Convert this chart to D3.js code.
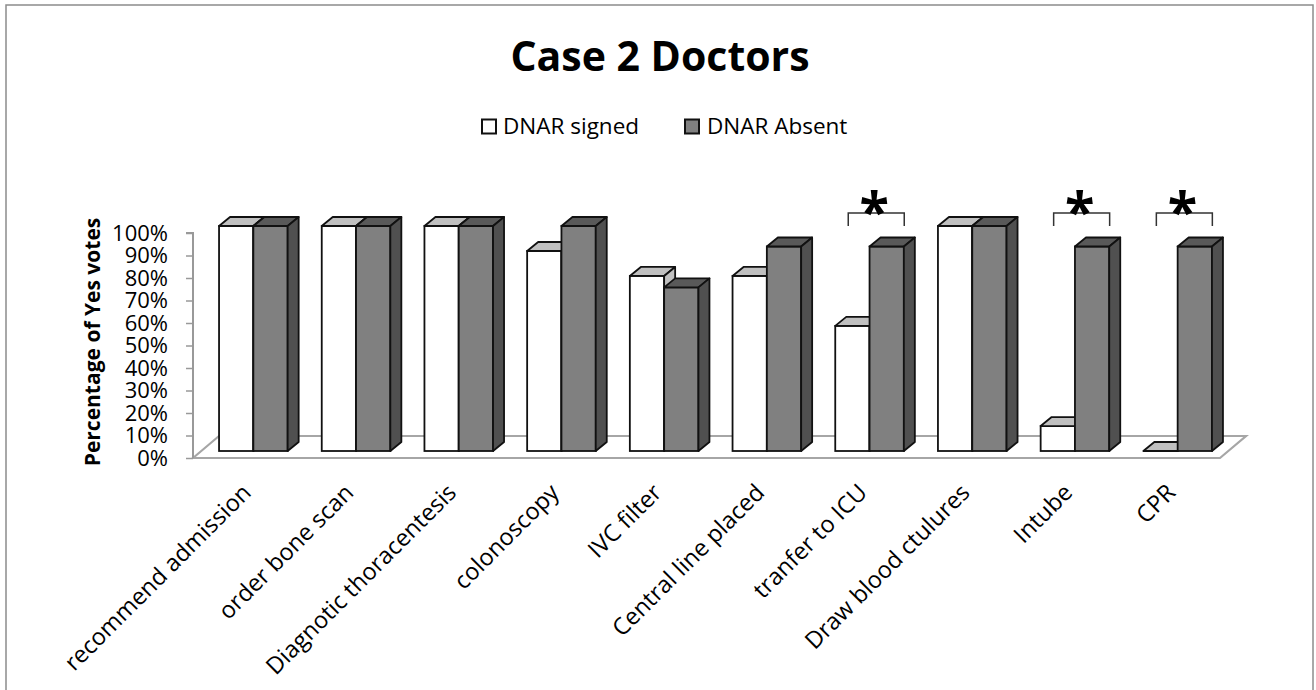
<!DOCTYPE html>
<html>
<head>
<meta charset="utf-8">
<script src="https://cdn.jsdelivr.net/npm/d3@7"></script>
<style>
  body { margin: 0; background: #fff; }
  text { font-family: "Open Sans", "Noto Sans", sans-serif; fill: #000; }
</style>
</head>
<body>
<svg id="chart"></svg>
<script>
// values (percent of yes votes)
var categories = ["recommend admission", "order bone scan", "Diagnotic thoracentesis", "colonoscopy",
  "IVC filter", "Central line placed", "tranfer to ICU", "Draw blood ctulures", "Intube", "CPR"];
var dnarSigned = [100, 100, 100, 88.9, 77.8, 77.8, 55.6, 100, 11.1, 0];
var dnarAbsent = [100, 100, 100, 100, 72.7, 90.9, 90.9, 100, 90.9, 90.9];
var seriesNames = ["DNAR signed", "DNAR Absent"];
var significant = ["tranfer to ICU", "Intube", "CPR"];
var yTicks = [0, 10, 20, 30, 40, 50, 60, 70, 80, 90, 100];

var width = 1316, height = 690;

var svg = d3.select("#chart").attr("width", width).attr("height", height);

// chart border
svg.append("rect")
  .attr("x", 6).attr("y", 5).attr("width", 1307).attr("height", 710)
  .attr("fill", "#fff").attr("stroke", "#8c8c8c").attr("stroke-width", 1.5);

// floor front edge / depth
var floorL = 193, floorR = 1220, floorY = 458;
var floorDx = 26, floorDy = -22;
// bar sits a little back on the floor, and has its own depth
var barShiftX = 9, barShiftY = -7;
var bdx = 11, bdy = -9;

var x = d3.scaleBand().domain(categories).range([floorL, floorR])
  .paddingInner(0.332).paddingOuter(0.166);
var y = d3.scaleLinear().domain([0, 100]).range([floorY, 233]);

// title
svg.append("text")
  .attr("x", 660).attr("y", 71)
  .attr("text-anchor", "middle")
  .style("font-size", "41px").style("font-weight", "bold")
  .text("Case 2 Doctors");

// legend
var legendPos = [{ x: 482, tx: 503 }, { x: 685, tx: 707 }];
var fills = ["#ffffff", "#808080"];
var tops = ["#c0c0c0", "#595959"];
var sides = ["#c0c0c0", "#505050"];

seriesNames.forEach(function (s, i) {
  svg.append("rect")
    .attr("x", legendPos[i].x).attr("y", 119.5)
    .attr("width", 14).attr("height", 14)
    .attr("fill", fills[i]).attr("stroke", "#111").attr("stroke-width", 2);
  svg.append("text")
    .attr("x", legendPos[i].tx).attr("y", 134)
    .style("font-size", "22.5px")
    .text(s);
});

// floor
svg.append("path")
  .attr("d", "M" + floorL + "," + floorY +
    "L" + (floorL + floorDx) + "," + (floorY + floorDy) +
    "L" + (floorR + floorDx) + "," + (floorY + floorDy) +
    "L" + floorR + "," + floorY + "Z")
  .attr("fill", "#fff").attr("stroke", "#a6a6a6").attr("stroke-width", 2.2);

// y axis
var yAxis = d3.axisLeft(y).tickValues(yTicks).tickSize(7).tickFormat(function (d) { return d + "%"; });
var ag = svg.append("g").attr("transform", "translate(" + floorL + ",0)").call(yAxis);
ag.select(".domain").attr("stroke", "#999").attr("stroke-width", 2).attr("d", "M-7," + y(100) + "H0V" + floorY);
ag.selectAll(".tick line").attr("stroke", "#999").attr("stroke-width", 1.5);
ag.selectAll(".tick text")
  .attr("x", -25)
  .style("font-size", "22px").style("font-family", "'Open Sans', sans-serif").attr("fill", "#000");

// y title
svg.append("text")
  .attr("transform", "translate(100," + 342 + ")rotate(-90)")
  .attr("text-anchor", "middle")
  .style("font-size", "21px").style("font-weight", "bold")
  .text("Percentage of Yes votes");

// 3d bars
function drawBar(g, x0, w, v, k) {
  var base = y(0) + barShiftY, top = y(v) + barShiftY;
  var left = x0 + barShiftX;
  g.append("rect")
    .attr("x", left).attr("y", top).attr("width", w).attr("height", base - top)
    .attr("fill", fills[k]).attr("stroke", "#111").attr("stroke-width", 1.8);
  g.append("path")
    .attr("d", "M" + left + "," + top + "L" + (left + bdx) + "," + (top + bdy) +
      "L" + (left + w + bdx) + "," + (top + bdy) + "L" + (left + w) + "," + top + "Z")
    .attr("fill", tops[k]).attr("stroke", "#111").attr("stroke-width", 1.8).attr("stroke-linejoin", "round");
  g.append("path")
    .attr("d", "M" + (left + w) + "," + top + "L" + (left + w + bdx) + "," + (top + bdy) +
      "L" + (left + w + bdx) + "," + (base + bdy) + "L" + (left + w) + "," + base + "Z")
    .attr("fill", sides[k]).attr("stroke", "#111").attr("stroke-width", 1.8).attr("stroke-linejoin", "round");
}

var bw = x.bandwidth() / 2;
var bars = svg.append("g");
categories.forEach(function (c, i) {
  var g = bars.append("g");
  drawBar(g, x(c), bw, dnarSigned[i], 0);
  drawBar(g, x(c) + bw, bw, dnarAbsent[i], 1);
});

// category labels
svg.append("g").selectAll("text")
  .data(categories).enter().append("text")
  .attr("transform", function (d) {
    return "translate(" + (x(d) + x.bandwidth() / 2 + 8) + ",494)rotate(-45)";
  })
  .attr("text-anchor", "end")
  .style("font-size", "23.5px")
  .text(function (d) { return d; });

// significance brackets
significant.forEach(function (c) {
  var x1 = x(c) + barShiftX + 13, x2 = x(c) + barShiftX + 69;
  svg.append("path")
    .attr("d", "M" + x1 + ",226V213H" + x2 + "V226")
    .attr("fill", "none").attr("stroke", "#333").attr("stroke-width", 1.5);
  svg.append("text")
    .attr("x", (x1 + x2) / 2 - 2).attr("y", 231)
    .attr("text-anchor", "middle")
    .style("font-size", "54px").style("font-weight", "bold")
    .text("*");
});
</script>
</body>
</html>
